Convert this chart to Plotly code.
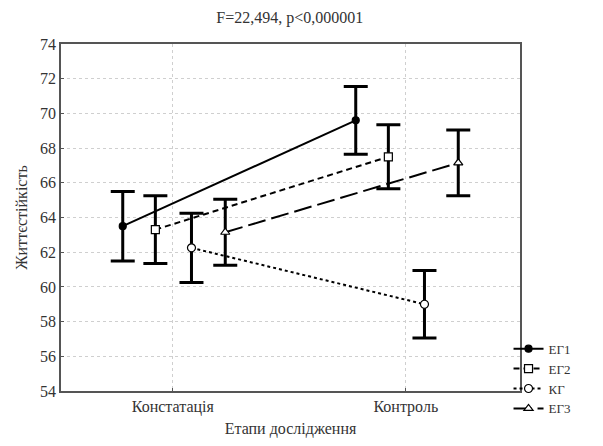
import plotly.graph_objects as go

stages = ["Констатація", "Контроль"]
groups = ["ЕГ1", "ЕГ2", "КГ", "ЕГ3"]
means = {
    "ЕГ1": [63.5, 69.6],
    "ЕГ2": [63.3, 67.5],
    "КГ": [62.25, 59.0],
    "ЕГ3": [63.15, 67.15],
}
errs = {
    "ЕГ1": [2.0, 1.95],
    "ЕГ2": [1.95, 1.85],
    "КГ": [2.0, 1.95],
    "ЕГ3": [1.9, 1.9],
}
y_ticks = [54, 56, 58, 60, 62, 64, 66, 68, 70, 72, 74]

offsets = {"ЕГ1": -0.215, "ЕГ2": -0.075, "КГ": 0.08, "ЕГ3": 0.225}
styles = {
    "ЕГ1": dict(dash="solid", symbol="circle", fill="black", size=7),
    "ЕГ2": dict(dash="6px,4px", symbol="square", fill="white", size=8),
    "КГ": dict(dash="dot", symbol="circle", fill="white", size=8),
    "ЕГ3": dict(dash="18px,6px", symbol="triangle-up", fill="white", size=8),
}

fig = go.Figure()
for g in groups:
    s = styles[g]
    xs = [i + offsets[g] for i in range(len(stages))]
    fig.add_trace(go.Scatter(
        x=xs, y=means[g], name=g, mode="lines+markers",
        line=dict(color="black", width=2, dash=s["dash"]),
        marker=dict(symbol=s["symbol"], size=s["size"], color=s["fill"],
                    line=dict(color="black", width=1.2)),
        error_y=dict(type="data", array=errs[g], visible=True,
                     color="black", thickness=3, width=12),
    ))

font = "Liberation Serif"
fig.update_layout(
    width=587, height=430,
    margin=dict(l=53, r=75, t=36, b=47),
    paper_bgcolor="white", plot_bgcolor="white",
    font=dict(family=font, size=16, color="#333"),
    title=dict(text="F=22,494, p<0,000001", x=0.48, xanchor="center",
               y=0.977, yanchor="middle", font=dict(size=16, family=font, color="#333")),
    showlegend=True,
    legend=dict(x=0.975, xanchor="left", y=0.165, yanchor="top",
                font=dict(size=13, family=font, color="#333"), tracegroupgap=0,
                itemwidth=30, bgcolor="rgba(0,0,0,0)"),
)
fig.update_xaxes(
    range=[-0.48, 1.49], tickvals=[0, 1], ticktext=stages,
    showgrid=True, gridcolor="#cfcfcf", griddash="dot", gridwidth=1,
    showline=True, linecolor="#555", linewidth=1.5, mirror=True,
    ticks="inside", ticklen=3, tickcolor="#555",
    zeroline=False, automargin=False,
    title=dict(text="Етапи дослідження", standoff=12, font=dict(size=16)),
)
fig.update_yaxes(
    range=[54, 74], tickvals=y_ticks,
    showgrid=True, gridcolor="#cfcfcf", griddash="dot", gridwidth=1,
    showline=True, linecolor="#555", linewidth=1.5, mirror=True,
    ticks="inside", ticklen=3, tickcolor="#555",
    zeroline=False, automargin=False,
    title=dict(text="Життєстійкість", standoff=8, font=dict(size=16)),
)
fig.write_html("out.html")
